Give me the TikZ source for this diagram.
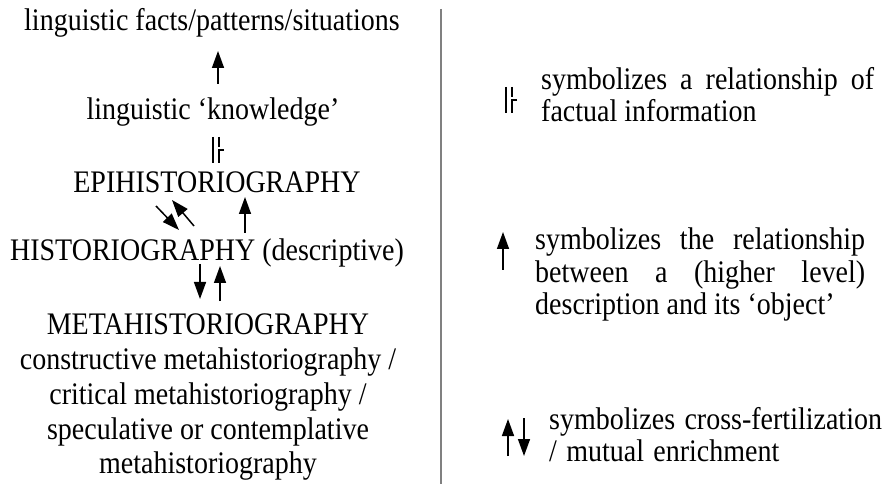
\documentclass[tikz,border=0pt]{standalone}
\usepackage{fontspec}
\setmainfont{Liberation Serif}
\usetikzlibrary{arrows.meta}
\tikzset{
  txt/.style={inner sep=0pt, yscale=1.12, font=\fontsize{28}{31}\selectfont},
  legtxt/.style={txt, anchor=north west, align=justify, font=\fontsize{28}{29}\selectfont},
  uparr/.style={line width=1.5pt, -{Triangle[width=12pt,length=17pt]}},
  factsym/.pic={
    \draw[line width=2pt] (-3,-13) -- (-3,13);
    \draw[line width=2pt] (3,-13) -- (3,-3);
    \draw[line width=2pt] (8,0) -- (3,0) -- (3,13);
  },
}

\begin{document}
\begin{tikzpicture}[x=1pt,y=-1pt]
        \useasboundingbox (0,0) rectangle (883,486);
        % left column
        \node[txt, anchor=base] (facts) at (212,31) {linguistic facts/patterns/situations};
        \node[txt, anchor=base] (know) at (213,120) {linguistic ‘knowledge’};
        \node[txt, anchor=base] (epi) at (217,193) {EPIHISTORIOGRAPHY};
        \node[txt, anchor=base] (hist) at (207,261) {HISTORIOGRAPHY (descriptive)};
        \node[txt, anchor=north, align=center] (meta) at (208,314) {METAHISTORIOGRAPHY\\
            constructive metahistoriography /\\
            critical metahistoriography /\\
            speculative or contemplative\\
            metahistoriography};
        % arrow ends
        \coordinate (know-top) at (218,84);
        \coordinate (facts-bot) at (218,51);
        \coordinate (epi-a) at (156,206);
        \coordinate (hist-a) at (179,230);
        \coordinate (hist-b) at (194,226);
        \coordinate (epi-b) at (172,200);
        \coordinate (hist-c) at (245,233);
        \coordinate (epi-c) at (245,197);
        \coordinate (hist-d) at (200,264);
        \coordinate (meta-d) at (200,299);
        \coordinate (meta-e) at (220,301);
        \coordinate (hist-e) at (220,266);
        % connectors
        \draw[uparr] (know-top) -- (facts-bot);
        \pic at (216,150) {factsym};
        \draw[uparr] (epi-a) -- (hist-a);
        \draw[uparr] (hist-b) -- (epi-b);
        \draw[uparr] (hist-c) -- (epi-c);
        \draw[uparr] (hist-d) -- (meta-d);
        \draw[uparr] (meta-e) -- (hist-e);
        % divider
        \coordinate (div-top) at (441,9);
        \coordinate (div-bot) at (441,484);
        \draw[gray, line width=1.5pt] (div-top) -- (div-bot);
        % legend
        \pic at (509,100) {factsym};
        \node[legtxt, text width=333pt] (leg-fact) at (541,67)
            {symbolizes a relationship of\linebreak factual information};
        \coordinate (leg-up-bot) at (503,270);
        \coordinate (leg-up-top) at (503,232);
        \draw[uparr] (leg-up-bot) -- (leg-up-top);
        \node[legtxt, text width=330pt] (leg-obj) at (535,228)
            {symbolizes the relationship\linebreak between a (higher level)\linebreak description and its ‘object’};
        \coordinate (leg-mu-a) at (508,456);
        \coordinate (leg-mu-b) at (508,419);
        \coordinate (leg-mu-c) at (524,418);
        \coordinate (leg-mu-d) at (524,456);
        \draw[uparr] (leg-mu-a) -- (leg-mu-b);
        \draw[uparr] (leg-mu-c) -- (leg-mu-d);
        \node[legtxt, text width=334pt, align=left] (leg-mut) at (549,407)
            {symbolizes cross-fertilization\\ / mutual enrichment};
\end{tikzpicture}
\end{document}
